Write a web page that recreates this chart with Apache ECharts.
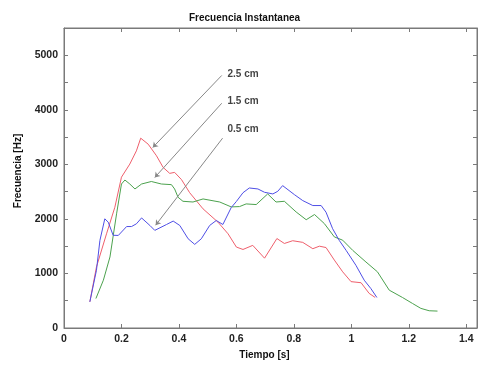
<!DOCTYPE html>
<html>
<head>
<meta charset="utf-8">
<script src="https://cdn.jsdelivr.net/npm/echarts@6/dist/echarts.min.js"></script>
<style>
  html, body { margin: 0; padding: 0; background: #fff; }
  #main { width: 479px; height: 367px; }
</style>
</head>
<body>
<div id="main"></div>
<script>
// tiempo [s] y frecuencia [Hz] de cada curva
var tiempo25 = [0.09, 0.113, 0.148, 0.177, 0.2, 0.229, 0.252, 0.267, 0.293, 0.322, 0.345, 0.368, 0.385, 0.409, 0.4375, 0.484, 0.536, 0.571, 0.6, 0.623, 0.657, 0.698, 0.741, 0.767, 0.796, 0.831, 0.866, 0.889, 0.912, 0.941, 0.97, 0.999, 1.034, 1.062, 1.083];
var frec25 = [480, 1119, 1727, 2214, 2765, 3005, 3248, 3480, 3370, 3157, 2944, 2835, 2853, 2720, 2480, 2184, 1940, 1727, 1484, 1440, 1515, 1280, 1640, 1550, 1600, 1570, 1454, 1500, 1475, 1245, 1030, 850, 830, 635, 560];

var tiempo15 = [0.111, 0.137, 0.16, 0.183, 0.2, 0.212, 0.229, 0.247, 0.27, 0.304, 0.339, 0.374, 0.385, 0.397, 0.414, 0.449, 0.484, 0.542, 0.582, 0.611, 0.634, 0.669, 0.709, 0.738, 0.767, 0.808, 0.843, 0.872, 0.906, 0.941, 0.97, 1.005, 1.051, 1.091, 1.132, 1.178, 1.213, 1.242, 1.271, 1.3];
var frec15 = [540, 876, 1302, 2093, 2640, 2713, 2640, 2549, 2640, 2686, 2640, 2628, 2549, 2397, 2323, 2310, 2366, 2310, 2220, 2226, 2275, 2263, 2458, 2310, 2323, 2127, 1985, 2080, 1915, 1670, 1610, 1423, 1210, 1030, 694, 560, 450, 360, 316, 310];

var tiempo05 = [0.09, 0.113, 0.125, 0.142, 0.154, 0.171, 0.189, 0.218, 0.235, 0.252, 0.27, 0.299, 0.316, 0.357, 0.38, 0.403, 0.432, 0.455, 0.478, 0.507, 0.53, 0.553, 0.582, 0.6, 0.623, 0.645, 0.675, 0.698, 0.727, 0.744, 0.761, 0.802, 0.831, 0.866, 0.895, 0.912, 0.935, 0.958, 0.982, 1.016, 1.045, 1.068, 1.089];
var frec05 = [480, 1058, 1606, 2002, 1940, 1700, 1697, 1860, 1860, 1910, 2018, 1880, 1790, 1898, 1960, 1880, 1636, 1533, 1636, 1880, 1971, 1898, 2208, 2320, 2480, 2567, 2549, 2488, 2458, 2506, 2610, 2445, 2336, 2245, 2245, 2123, 1820, 1606, 1423, 1150, 876, 724, 560];

// etiquetas y flechas
var etiquetas = ['2.5 cm', '1.5 cm', '0.5 cm'];
var etiquetaPos = [[0.555, 4660], [0.555, 4150], [0.555, 3650]];
var flechaDesde = [[0.549, 4630], [0.549, 4120], [0.552, 3480]];
var flechaHasta = [[0.309, 3310], [0.316, 2760], [0.319, 1885]];

var xTicks = { min: 0, max: 1.4375, interval: 0.2 };
var yTicks = { min: 0, max: 5500, interval: 500 };

function pares(xs, ys) {
	var out = [];
	for (var i = 0; i < xs.length; i++) out.push([xs[i], ys[i]]);
	return out;
}

var fuente = 'Liberation Sans, Arial, sans-serif';
var ejeColor = '#7a7a7a';

var myChart = echarts.init(document.getElementById('main'));

var puntosEtiqueta = [];
for (var i = 0; i < etiquetas.length; i++) {
	puntosEtiqueta.push({ name: etiquetas[i], value: etiquetaPos[i] });
}
var flechas = [];
for (var i = 0; i < flechaDesde.length; i++) {
	flechas.push([{ coord: flechaDesde[i] }, { coord: flechaHasta[i] }]);
}

var option = {
	backgroundColor: '#fff',
	animation: false,
	title: {
		text: 'Frecuencia Instantanea',
		left: 189,
		top: 13,
		padding: 0,
		textStyle: { fontFamily: fuente, fontSize: 10, fontWeight: 'bold', color: '#111' }
	},
	grid: { left: 64, right: 2, top: 28, bottom: 39, show: true, borderColor: ejeColor, borderWidth: 1, backgroundColor: 'transparent' },
	xAxis: [{
		type: 'value',
		min: xTicks.min, max: xTicks.max, interval: xTicks.interval,
		name: 'Tiempo [s]',
		nameLocation: 'middle',
		nameGap: 22,
		nameTextStyle: { fontFamily: fuente, fontSize: 10, fontWeight: 'bold', color: '#111', padding: [0, 12, 0, 0] },
		axisLine: { onZero: false, lineStyle: { color: ejeColor } },
		axisTick: { inside: true, length: 4, lineStyle: { color: ejeColor } },
		axisLabel: { showMaxLabel: false, margin: 6, fontFamily: fuente, fontSize: 10.5, fontWeight: 'bold', color: '#222' },
		splitLine: { show: false }
	}, {
		type: 'value',
		position: 'top',
		min: xTicks.min, max: xTicks.max, interval: xTicks.interval,
		axisLine: { onZero: false, lineStyle: { color: ejeColor } },
		axisTick: { inside: true, length: 4, lineStyle: { color: ejeColor } },
		axisLabel: { show: false },
		splitLine: { show: false }
	}],
	yAxis: [{
		type: 'value',
		min: yTicks.min, max: yTicks.max, interval: yTicks.interval,
		name: 'Frecuencia [Hz]',
		nameLocation: 'middle',
		nameGap: 33,
		nameTextStyle: { fontFamily: fuente, fontSize: 10, fontWeight: 'bold', color: '#111', padding: [0, 0, 0, 14] },
		axisLine: { show: true, onZero: false, lineStyle: { color: ejeColor } },
		axisTick: { show: true, inside: true, length: 4, lineStyle: { color: ejeColor } },
		axisLabel: {
			margin: 6, fontFamily: fuente, fontSize: 10.5, fontWeight: 'bold', color: '#222',
			formatter: function(v) { return v % 1000 === 0 ? v : ''; }
		},
		splitLine: { show: false }
	}, {
		type: 'value',
		position: 'right',
		min: yTicks.min, max: yTicks.max, interval: yTicks.interval,
		axisLine: { show: true, onZero: false, lineStyle: { color: ejeColor } },
		axisTick: { show: true, inside: true, length: 4, lineStyle: { color: ejeColor } },
		axisLabel: { show: false },
		splitLine: { show: false }
	}],
	series: [{
		name: '2.5 cm',
		type: 'line',
		data: pares(tiempo25, frec25),
		showSymbol: false,
		lineStyle: { color: '#ef5f6c', width: 1 }
	}, {
		name: '1.5 cm',
		type: 'line',
		data: pares(tiempo15, frec15),
		showSymbol: false,
		lineStyle: { color: '#4ca24e', width: 1 }
	}, {
		name: '0.5 cm',
		type: 'line',
		data: pares(tiempo05, frec05),
		showSymbol: false,
		lineStyle: { color: '#4f4fe6', width: 1 }
	}, {
		type: 'scatter',
		data: puntosEtiqueta,
		symbolSize: 0,
		silent: true,
		label: {
			show: true,
			position: 'right',
			distance: 4,
			formatter: '{b}',
			fontFamily: fuente, fontSize: 10, fontWeight: 'bold', color: '#111'
		},
		markLine: {
			silent: true,
			symbol: ['none', 'arrow'],
			symbolSize: 5,
			label: { show: false },
			lineStyle: { color: '#888', width: 1, type: 'solid' },
			data: flechas
		}
	}]
};

myChart.setOption(option);
</script>
</body>
</html>
